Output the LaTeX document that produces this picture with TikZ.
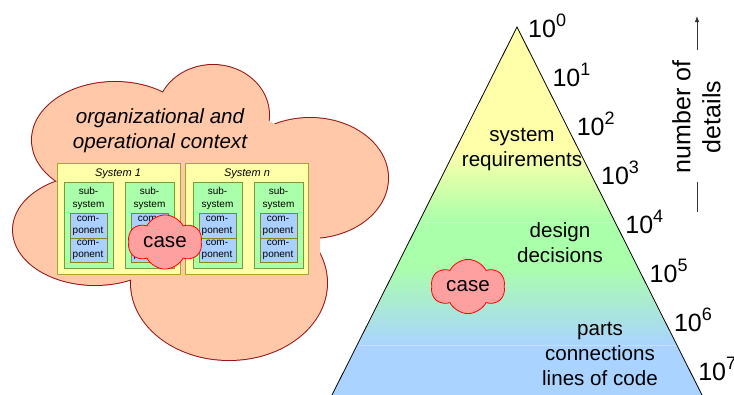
\documentclass[tikz,border=0pt]{standalone}
\usepackage{fontspec}
\setmainfont{Liberation Sans}
\usetikzlibrary{shapes.symbols,arrows.meta}
\definecolor{cloudfill}{RGB}{255,200,168}
\definecolor{cloudline}{RGB}{150,20,20}
\definecolor{sysfill}{RGB}{255,255,170}
\definecolor{sysline}{RGB}{165,165,40}
\definecolor{subfill}{RGB}{170,255,170}
\definecolor{subline}{RGB}{120,155,50}
\definecolor{compfill}{RGB}{170,208,255}
\definecolor{compline}{RGB}{135,135,30}
\definecolor{casefill}{RGB}{255,160,160}
\definecolor{pyY}{RGB}{255,255,170}
\definecolor{pyG}{RGB}{170,255,170}
\definecolor{pyB}{RGB}{170,212,255}
\begin{document}
\begin{tikzpicture}[x=1pt,y=-1pt,
  sysbox/.style={rectangle,draw=sysline,fill=sysfill,line width=0.8pt,inner sep=0,anchor=north west,minimum width=123pt,minimum height=111pt},
  subbox/.style={rectangle,draw=subline,fill=subfill,line width=0.8pt,inner sep=0,anchor=north west,minimum width=49pt,minimum height=86pt},
  compbox/.style={rectangle,draw=compline,fill=compfill,line width=0.8pt,inner sep=0,anchor=north west,minimum width=37pt},
  smalltxt/.style={inner sep=0,align=center,font=\fontsize{10}{12.5}\selectfont},
  systxt/.style={inner sep=0,font=\fontsize{11}{13}\selectfont\itshape},
  bigtxt/.style={inner sep=0,align=center,font=\fontsize{20.6}{25}\selectfont},
  casecloud/.style={cloud,cloud puffs=6,cloud puff arc=125,aspect=1.5,draw=red,fill=casefill,line width=0.8pt,inner sep=0,minimum width=74pt,minimum height=48pt,font=\fontsize{20.6}{25}\selectfont},
  powtxt/.style={inner sep=0,anchor=base west,font=\fontsize{25}{25}\selectfont}]
\useasboundingbox (0,0) rectangle (734,394);
% big context cloud
\foreach \cx/\cy/\rx/\ry in {213/115/56/50, 115/140/83/58, 95/230/82/55, 229/283/98/77, 310/178/78/60}
  \draw[cloudline,line width=2pt] (\cx,\cy) ellipse [x radius=\rx, y radius=\ry];
\foreach \cx/\cy/\rx/\ry in {213/115/56/50, 115/140/83/58, 95/230/82/55, 229/283/98/77, 310/178/78/60}
  \fill[cloudfill] (\cx,\cy) ellipse [x radius=\rx, y radius=\ry];
\fill[cloudfill] (80,130) -- (250,110) -- (320,150) -- (320,260) -- (200,300) -- (80,260) -- cycle;
\node[bigtxt,font=\fontsize{20.6}{25}\selectfont\itshape] (ctx) at (160,130.5) {organizational and\\operational context};
% systems
\node[sysbox] (sys1) at (57,163) {};
\node[sysbox] (sysn) at (185,163) {};
\node[systxt] (sys1t) at (118,174) {System 1};
\node[systxt] (sysnt) at (247,174) {System n};
\foreach \x/\n in {64/a,125/b,193/c,254/d} {
  \node[subbox] (ss\n) at (\x,182) {};
  \node[smalltxt] (sst\n) at (\x+24.5,198.5) {sub-\\system};
  \node[compbox,minimum height=25pt] (ca\n) at (\x+5.5,213) {};
  \node[compbox,minimum height=24pt] (cb\n) at (\x+5.5,238) {};
  \node[smalltxt] (cat\n) at (\x+24,226) {com-\\ponent};
  \node[smalltxt] (cbt\n) at (\x+24,250) {com-\\ponent};
}
\node[casecloud] (case1) at (165,242) {case};
% pyramid
\coordinate (apex) at (517,27);
\coordinate (bl) at (331,397);
\coordinate (br) at (703,397);
\begin{scope}
  \clip (apex) -- (bl) -- (br) -- cycle;
  \fill[pyY] (300,0) rectangle (740,150);
  \shade[top color=pyY,bottom color=pyG] (300,150) rectangle (740,222);
  \fill[pyG] (300,222) rectangle (740,265);
  \shade[top color=pyG,bottom color=pyB] (300,265) rectangle (740,345);
  \fill[pyB] (300,345) rectangle (740,400);
  \draw[white,opacity=0.3,line width=0.5pt] (300,222) -- (740,222) (300,345) -- (740,345);
\end{scope}
\draw[line width=0.8pt] (bl) -- (apex) -- (br);
\node[bigtxt] (req) at (522,149.5) {system\\requirements};
\node[bigtxt] (des) at (560,243) {design\\decisions};
\node[bigtxt] (parts) at (600,353.5) {parts\\connections\\lines of code};
\node[casecloud] (case2) at (468,286.5) {case};
% powers of ten
\foreach \k in {0,...,7}
  \node[powtxt] (p\k) at (528+24.3*\k,37+49*\k) {10\raisebox{11pt}{\fontsize{18}{18}\selectfont\k}};
% axis label
\node[inner sep=0,rotate=90,align=center,font=\fontsize{25}{30}\selectfont] (nd) at (696.5,117) {number of\\details};
\coordinate (ax0) at (697,212);
\coordinate (ax1) at (697,182);
\coordinate (ax2) at (697,50);
\coordinate (ax3) at (697,16);
\draw[line width=0.8pt,black!80] (ax0) -- (ax1);
\draw[line width=0.8pt,black!80,-{Latex[length=6pt,width=4.5pt]}] (ax2) -- (ax3);
\end{tikzpicture}
\end{document}
